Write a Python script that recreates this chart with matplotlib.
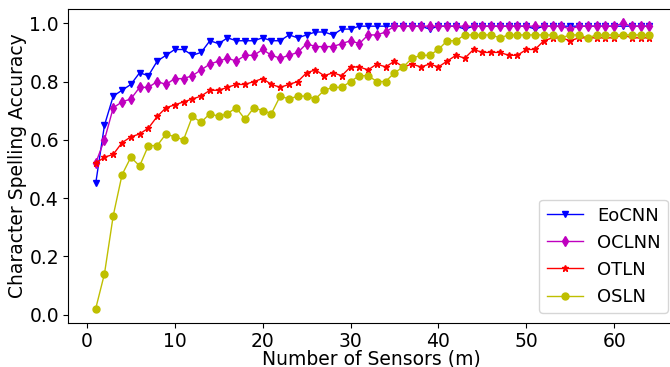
"""Character spelling accuracy vs number of sensors."""

import numpy as np
import matplotlib
matplotlib.use("Agg")
import matplotlib.pyplot as plt

sensors = np.arange(1, 65)

eocnn = [0.45, 0.65, 0.75, 0.77, 0.79, 0.83, 0.82, 0.87, 0.89, 0.91,
         0.91, 0.89, 0.90, 0.94, 0.93, 0.95, 0.94, 0.94, 0.94, 0.95,
         0.94, 0.94, 0.96, 0.95, 0.96, 0.97, 0.97, 0.96, 0.98, 0.98,
         0.99, 0.99, 0.99, 0.99, 0.99, 0.99, 0.99, 0.99, 0.98, 0.99,
         0.99, 0.99, 0.98, 0.99, 0.99, 0.99, 0.99, 0.99, 0.99, 0.99,
         0.98, 0.99, 0.99, 0.99, 0.99, 0.99, 0.99, 0.99, 0.99, 0.99,
         0.99, 0.99, 0.99, 0.99]
oclnn = [0.52, 0.60, 0.71, 0.73, 0.74, 0.78, 0.78, 0.80, 0.79, 0.81,
         0.81, 0.82, 0.84, 0.86, 0.87, 0.88, 0.87, 0.89, 0.89, 0.91,
         0.89, 0.88, 0.89, 0.90, 0.93, 0.92, 0.92, 0.92, 0.93, 0.94,
         0.93, 0.96, 0.96, 0.97, 0.99, 0.99, 0.99, 0.99, 0.99, 0.99,
         0.99, 0.99, 0.99, 0.99, 0.99, 0.99, 0.99, 0.99, 0.99, 0.99,
         0.99, 0.99, 0.99, 0.99, 0.98, 0.99, 0.99, 0.99, 0.99, 0.99,
         1.00, 0.99, 0.99, 0.99]
otln = [0.52, 0.54, 0.55, 0.59, 0.61, 0.62, 0.64, 0.68, 0.71, 0.72,
        0.73, 0.74, 0.75, 0.77, 0.77, 0.78, 0.79, 0.79, 0.80, 0.81,
        0.79, 0.78, 0.79, 0.80, 0.83, 0.84, 0.82, 0.83, 0.82, 0.85,
        0.85, 0.84, 0.86, 0.85, 0.87, 0.85, 0.86, 0.85, 0.86, 0.85,
        0.87, 0.89, 0.88, 0.91, 0.90, 0.90, 0.90, 0.89, 0.89, 0.91,
        0.91, 0.94, 0.95, 0.95, 0.94, 0.95, 0.95, 0.95, 0.95, 0.95,
        0.96, 0.95, 0.95, 0.95]
osln = [0.02, 0.14, 0.34, 0.48, 0.54, 0.51, 0.58, 0.58, 0.62, 0.61,
        0.60, 0.68, 0.66, 0.69, 0.68, 0.69, 0.71, 0.67, 0.71, 0.70,
        0.69, 0.75, 0.74, 0.75, 0.75, 0.74, 0.77, 0.78, 0.78, 0.80,
        0.82, 0.82, 0.80, 0.80, 0.83, 0.85, 0.88, 0.89, 0.89, 0.91,
        0.94, 0.94, 0.96, 0.96, 0.96, 0.96, 0.95, 0.96, 0.96, 0.96,
        0.96, 0.96, 0.96, 0.95, 0.96, 0.96, 0.95, 0.96, 0.96, 0.96,
        0.96, 0.96, 0.96, 0.96]

fs = 13.5
fig = plt.figure(figsize=(6.7, 3.67), dpi=100)
ax = fig.add_axes([0.1015, 0.1199, 0.9089, 0.8556])

ax.plot(sensors, eocnn, 'b-v', lw=1.0, ms=5, label='EoCNN')
ax.plot(sensors, oclnn, 'm-d', lw=1.0, ms=5.5, label='OCLNN')
ax.plot(sensors, otln, 'r-*', lw=1.0, ms=4.5, label='OTLN')
ax.plot(sensors, osln, 'y-o', lw=1.0, ms=5, label='OSLN')

ax.set_xlim(-2.15, 67.15)
ax.set_ylim(-0.029, 1.049)
ax.set_xticks([0, 10, 20, 30, 40, 50, 60])
ax.set_yticks([0.0, 0.2, 0.4, 0.6, 0.8, 1.0])
ax.tick_params(labelsize=fs, pad=3)
ax.set_xlabel('Number of Sensors (m)', fontsize=fs)
ax.set_ylabel('Character Spelling Accuracy', fontsize=fs)
ax.xaxis.set_label_coords(0.498, -0.083)
ax.yaxis.set_label_coords(-0.067, 0.5)

ax.legend(loc='lower right', bbox_to_anchor=(0.997, 0.147),
          bbox_transform=fig.transFigure, borderaxespad=0,
          fontsize=13, numpoints=1, handlelength=2.0)

fig.savefig('out.png', dpi=100)
